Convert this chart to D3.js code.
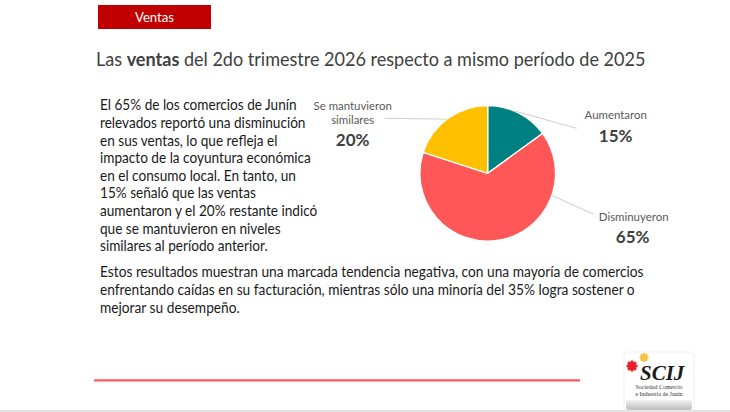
<!DOCTYPE html>
<html><head><meta charset="utf-8">
<script src="https://cdn.jsdelivr.net/npm/d3@7"></script>
<style>body{margin:0;background:#fff}svg{display:block}</style>
</head><body>
<script>
// ---- data ----
const categories = ["Aumentaron", "Disminuyeron", "Se mantuvieron similares"];
const values = [15, 65, 20];
const valueLabels = ["15%", "65%", "20%"];
const colors = ["#008080", "#FF5757", "#FFC000"];
const titleParts = [["Las ", false], ["ventas", true], [" del 2do trimestre 2026 respecto a mismo período de 2025", false]];
const sectionLabel = "Ventas";
const paragraph1 = [
  "El 65% de los comercios de Junín",
  "relevados reportó una disminución",
  "en sus ventas, lo que refleja el",
  "impacto de la coyuntura económica",
  "en el consumo local. En tanto, un",
  "15% señaló que las ventas",
  "aumentaron y el 20% restante indicó",
  "que se mantuvieron en niveles",
  "similares al período anterior."
];
const paragraph2 = [
  "Estos resultados muestran una marcada tendencia negativa, con una mayoría de comercios",
  "enfrentando caídas en su facturación, mientras sólo una minoría del 35% logra sostener o",
  "mejorar su desempeño."
];

const W = 730, H = 412;
const FONT = "Lato, 'Open Sans', sans-serif";
const svg = d3.select("body").append("svg").attr("width", W).attr("height", H);
svg.append("rect").attr("width", W).attr("height", H).attr("fill", "#fff");

// horizontally compress a group so that a reference text node gets the target width
function squeeze(g, refNode, target, x0) {
  const k = target / refNode.getComputedTextLength();
  g.attr("transform", `translate(${x0},0) scale(${k},1) translate(${-x0},0)`);
}

// banner
svg.append("rect").attr("x", 98).attr("y", 5).attr("width", 113).attr("height", 24).attr("fill", "#C00000");
const bt = svg.append("g");
const btt = bt.append("text").attr("x", 154.5).attr("y", 22).attr("text-anchor", "middle")
  .attr("font-family", FONT).attr("font-size", 13.5).attr("fill", "#fff").text(sectionLabel);
squeeze(bt, btt.node(), 39, 154.5);

// title
const tg = svg.append("g");
const title = tg.append("text").attr("x", 96).attr("y", 66.5).attr("font-family", FONT)
  .attr("font-size", 19.5).attr("fill", "#404040");
title.selectAll("tspan").data(titleParts).join("tspan")
  .attr("font-weight", d => d[1] ? "700" : "400").text(d => d[0]);
squeeze(tg, title.node(), 550, 96);

// paragraph 1
const p1 = svg.append("g");
const p1lines = p1.selectAll("text").data(paragraph1).join("text")
  .attr("x", 100).attr("y", (d, i) => 110.5 + i * 17.6)
  .attr("font-family", FONT).attr("font-size", 15).attr("fill", "#1a1a1a").text(d => d);
squeeze(p1, p1lines.filter((d, i) => i === 3).node(), 211, 100);

// paragraph 2
const p2 = svg.append("g");
const p2lines = p2.selectAll("text").data(paragraph2).join("text")
  .attr("x", 100).attr("y", (d, i) => 277.5 + i * 17.6)
  .attr("font-family", FONT).attr("font-size", 15).attr("fill", "#1a1a1a").text(d => d);
squeeze(p2, p2lines.filter((d, i) => i === 0).node(), 544, 100);

// pie
const cx = 487.7, cy = 173.3, R = 67.8;
const pie = d3.pie().sort(null).value(d => d.v);
const arcs = pie(values.map((v, i) => ({v, i})));
const arc = d3.arc().innerRadius(0).outerRadius(R);
const gp = svg.append("g").attr("transform", `translate(${cx},${cy})`);
gp.selectAll("path").data(arcs).join("path")
  .attr("d", arc).attr("fill", d => colors[d.data.i]).attr("stroke", "#fff").attr("stroke-width", 1.3);

// label layout (leader start angle on rim in degrees, leader end offset, label anchor offset)
const labelLayout = [
  {rimDeg: 23, end: [89, -45], name: [128, -54], val: [128, -31]},
  {rimDeg: 109, end: [106, 41], name: [146, 48], val: [145, 70]},
  {rimDeg: 323, end: [-103, -55], name: [-135, -63], val: [-135, -27]}
];
const nameLines = [["Aumentaron"], ["Disminuyeron"], ["Se mantuvieron", "similares"]];
labelLayout.forEach((L, i) => {
  const a = L.rimDeg * Math.PI / 180;
  const sx = Math.sin(a) * R, sy = -Math.cos(a) * R;
  gp.append("line").attr("x1", sx).attr("y1", sy).attr("x2", L.end[0]).attr("y2", L.end[1])
    .attr("stroke", "#BFBFBF").attr("stroke-width", 0.8);
  nameLines[i].forEach((t, j) => {
    const g = gp.append("g");
    const tx = g.append("text").attr("x", L.name[0]).attr("y", L.name[1] + j * 14)
      .attr("text-anchor", "middle").attr("font-family", FONT).attr("font-size", 12.3)
      .attr("fill", "#595959").text(t);
    g.attr("transform", `translate(${L.name[0]},0) scale(0.93,1) translate(${-L.name[0]},0)`);
  });
  gp.append("text").attr("x", L.val[0]).attr("y", L.val[1]).attr("text-anchor", "middle")
    .attr("font-family", FONT).attr("font-size", 17).attr("font-weight", 700)
    .attr("fill", "#404040").text(valueLabels[i]);
});

// bottom red line
svg.append("line").attr("x1", 94).attr("x2", 580).attr("y1", 380.3).attr("y2", 380.3)
  .attr("stroke", "#FF5A5A").attr("stroke-width", 2.2);

// bottom gray border
svg.append("rect").attr("x", 0).attr("y", 410).attr("width", W).attr("height", 2).attr("fill", "#E3E3E3");

// logo
const logo = svg.append("g");
const defs = svg.append("defs");
const lg = defs.append("linearGradient").attr("id", "lg").attr("x1", 0).attr("y1", 0).attr("x2", 0).attr("y2", 1);
lg.append("stop").attr("offset", "0").attr("stop-color", "#F2F2F2");
lg.append("stop").attr("offset", "1").attr("stop-color", "#BDBDBD");
logo.append("rect").attr("x", 624).attr("y", 352).attr("width", 70).attr("height", 58).attr("rx", 3)
  .attr("fill", "#fff").attr("stroke", "#F0F0F0");
logo.append("rect").attr("x", 626).attr("y", 400).attr("width", 66).attr("height", 10).attr("rx", 3)
  .attr("fill", "url(#lg)");
function gear(x, y, r, color) {
  const g = logo.append("g").attr("transform", `translate(${x},${y})`);
  g.append("circle").attr("r", r * 0.75).attr("fill", color);
  for (let k = 0; k < 8; k++) {
    g.append("rect").attr("x", -r * 0.25).attr("y", -r).attr("width", r * 0.5).attr("height", r * 0.5)
      .attr("fill", color).attr("transform", `rotate(${k * 45})`);
  }
}
gear(632, 366, 5.5, "#E8202A");
gear(644, 357.5, 4.5, "#F6C243");
logo.append("text").attr("x", 640).attr("y", 380).attr("font-family", "'Liberation Serif', serif")
  .attr("font-style", "italic").attr("font-weight", 700).attr("font-size", 21).attr("fill", "#1a1a1a").text("SCIJ");
logo.append("text").attr("x", 659).attr("y", 389).attr("text-anchor", "middle").attr("font-family", "'Liberation Serif', serif")
  .attr("font-size", 6).attr("fill", "#333").text("Sociedad  Comercio");
logo.append("text").attr("x", 659).attr("y", 396).attr("text-anchor", "middle").attr("font-family", "'Liberation Serif', serif")
  .attr("font-size", 6).attr("fill", "#333").text("e  Industria de Junín");
</script>
</body></html>
